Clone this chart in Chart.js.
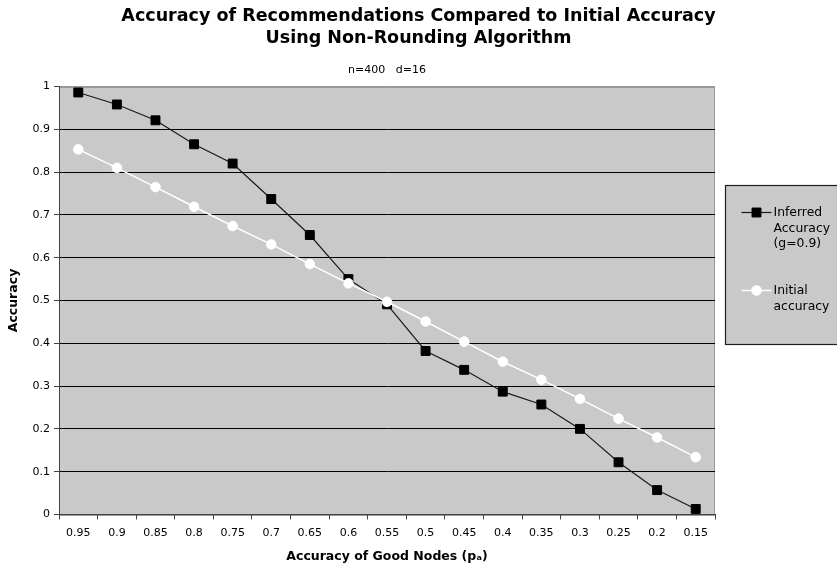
<!DOCTYPE html>
<html>
<head>
<meta charset="utf-8">
<title>Accuracy of Recommendations Compared to Initial Accuracy</title>
<script src="https://cdn.jsdelivr.net/npm/chart.js@4/dist/chart.umd.min.js"></script>
<style>
  html, body { margin: 0; padding: 0; background: #ffffff; }
  #wrap { width: 837px; height: 572px; }
</style>
</head>
<body>
<div id="wrap"><canvas id="chart" width="837" height="572"></canvas></div>
<script>
// Accuracy of good nodes (p_a), plotted from high to low
const goodNodeAccuracy = ['0.95', '0.9', '0.85', '0.8', '0.75', '0.7', '0.65', '0.6', '0.55',
                          '0.5', '0.45', '0.4', '0.35', '0.3', '0.25', '0.2', '0.15'];

// Inferred accuracy with g = 0.9
const inferredAccuracy = [0.986, 0.958, 0.921, 0.865, 0.820, 0.737, 0.653, 0.550, 0.491,
                          0.382, 0.338, 0.287, 0.257, 0.200, 0.122, 0.057, 0.013];

// Initial accuracy before recommendations
const initialAccuracy = [0.853, 0.810, 0.765, 0.719, 0.674, 0.631, 0.585, 0.540, 0.497,
                         0.451, 0.404, 0.357, 0.315, 0.270, 0.224, 0.180, 0.134];

const accuracyTicks = [0, 0.1, 0.2, 0.3, 0.4, 0.5, 0.6, 0.7, 0.8, 0.9, 1];

const titleLines = ['Accuracy of Recommendations Compared to Initial Accuracy',
                    'Using Non-Rounding Algorithm'];
const subtitleText = 'n=400   d=16';
const xAxisTitle = 'Accuracy of Good Nodes (p\u2090)';
const yAxisTitle = 'Accuracy';
const seriesNames = ['Inferred Accuracy (g=0.9)', 'Initial accuracy'];

const FONT = "'DejaVu Sans', Verdana, sans-serif";
const PLOT_BG = '#c9c9c9';

// Grey plot background with a light frame
const plotBackground = {
  id: 'plotBackground',
  beforeDraw(chart) {
    const { ctx, chartArea: a } = chart;
    ctx.save();
    ctx.fillStyle = PLOT_BG;
    ctx.fillRect(a.left, a.top, a.right - a.left, a.bottom - a.top);
    ctx.strokeStyle = '#9a9a9a';
    ctx.lineWidth = 1;
    ctx.strokeRect(Math.round(a.left) + 0.5, Math.round(a.top) + 0.5,
                   Math.round(a.right - a.left) - 1, Math.round(a.bottom - a.top));
    ctx.restore();
  }
};

// Word-wrap a label into lines no wider than maxWidth
function wrapText(ctx, text, maxWidth) {
  const words = text.split(' ');
  const lines = [];
  let line = '';
  for (const w of words) {
    const test = line ? line + ' ' + w : w;
    if (line && ctx.measureText(test).width > maxWidth) {
      lines.push(line);
      line = w;
    } else {
      line = test;
    }
  }
  if (line) lines.push(line);
  return lines;
}

// Boxed legend in its own column to the right of the plot
const sideLegend = {
  id: 'sideLegend',
  beforeInit(chart) {
    const box = {
      position: 'right',
      weight: 10,
      fullSize: false,
      options: { stackWeight: 1 },
      left: 0, top: 0, right: 0, bottom: 0, width: 0, height: 0,
      isHorizontal() { return false; },
      update(maxWidth, maxHeight) {
        this.width = 122;
        this.height = maxHeight;
      },
      draw() {
        const ctx = chart.ctx;
        const rx = Math.round(this.left) + 10.5;
        const ry = Math.round(this.top) + 98.5;
        const rw = 130;
        const rh = 159;
        ctx.save();
        ctx.fillStyle = PLOT_BG;
        ctx.fillRect(rx, ry, rw, rh);
        ctx.strokeStyle = '#1e1e1e';
        ctx.lineWidth = 1.2;
        ctx.strokeRect(rx, ry, rw, rh);

        ctx.font = '12.4px ' + FONT;
        ctx.textBaseline = 'middle';
        ctx.textAlign = 'left';
        chart.data.datasets.forEach((ds, i) => {
          const cy = ry + 27 + i * 78;
          const lx0 = rx + 16, lx1 = rx + 46, mx = rx + 31;
          ctx.strokeStyle = ds.borderColor;
          ctx.lineWidth = ds.borderWidth;
          ctx.beginPath();
          ctx.moveTo(lx0, cy);
          ctx.lineTo(lx1, cy);
          ctx.stroke();
          ctx.fillStyle = ds.pointBackgroundColor;
          ctx.strokeStyle = ds.pointBorderColor;
          ctx.lineWidth = ds.pointBorderWidth;
          Chart.helpers.drawPoint(ctx, {
            pointStyle: ds.pointStyle,
            radius: ds.pointRadius,
            borderWidth: ds.pointBorderWidth,
            rotation: 0
          }, mx, cy);
          ctx.fillStyle = '#000';
          const lines = wrapText(ctx, ds.label, 64);
          lines.forEach((t, k) => ctx.fillText(t, rx + 48, cy + k * 15.8));
        });
        ctx.restore();
      }
    };
    Chart.layouts.addBox(chart, box);
  }
};

new Chart(document.getElementById('chart'), {
  type: 'line',
  data: {
    labels: goodNodeAccuracy,
    datasets: [
      {
        label: seriesNames[0],
        data: inferredAccuracy,
        order: 1,
        borderColor: '#1a1a1a',
        borderWidth: 1.2,
        pointStyle: 'rect',
        pointRadius: 6.3,
        pointBackgroundColor: '#000000',
        pointBorderColor: '#000000',
        pointBorderWidth: 1,
        tension: 0
      },
      {
        label: seriesNames[1],
        data: initialAccuracy,
        order: 0,
        borderColor: '#ffffff',
        borderWidth: 1.5,
        pointStyle: 'circle',
        pointRadius: 4.8,
        pointBackgroundColor: '#ffffff',
        pointBorderColor: '#ffffff',
        pointBorderWidth: 1,
        tension: 0
      }
    ]
  },
  options: {
    responsive: false,
    animation: false,
    devicePixelRatio: 1,
    events: [],
    layout: { padding: 0 },
    plugins: {
      legend: { display: false },
      tooltip: { enabled: false },
      title: {
        display: true,
        text: titleLines,
        color: '#000',
        font: { family: FONT, size: 17.5, weight: 'bold', lineHeight: 1.3 },
        padding: { top: 4.6, bottom: 10 }
      },
      subtitle: {
        display: true,
        fullSize: false,
        text: subtitleText,
        color: '#000',
        font: { family: FONT, size: 11, weight: 'normal', lineHeight: 1.2 },
        padding: { top: 3.3, bottom: 9.9 }
      }
    },
    scales: {
      x: {
        type: 'category',
        offset: true,
        afterFit(scale) { scale.height = 57.5; },
        grid: {
          offset: true,
          drawOnChartArea: false,
          drawTicks: true,
          tickLength: 5,
          color: '#444'
        },
        border: { display: true, color: '#444', width: 1 },
        ticks: {
          color: '#000',
          font: { family: FONT, size: 11 },
          padding: 7,
          maxRotation: 0,
          autoSkip: false
        },
        title: {
          display: true,
          text: xAxisTitle,
          color: '#000',
          font: { family: FONT, size: 12.5, weight: 'bold', lineHeight: 1.2 },
          padding: { top: 0, bottom: 7.5 }
        }
      },
      y: {
        min: 0,
        max: 1,
        afterFit(scale) { scale.width = 59; },
        afterBuildTicks(scale) { scale.ticks = accuracyTicks.map(v => ({ value: v })); },
        grid: {
          drawTicks: true,
          tickLength: 5,
          color: (c) => (c.tick && c.tick.value === 1 ? '#9a9a9a' : '#000000'),
          tickColor: '#444',
          lineWidth: 1
        },
        border: { display: true, color: '#444', width: 1 },
        ticks: {
          color: '#000',
          font: { family: FONT, size: 11 },
          padding: 4,
          callback: (v) => String(Math.round(v * 10) / 10)
        },
        title: {
          display: true,
          text: yAxisTitle,
          color: '#000',
          font: { family: FONT, size: 12.5, weight: 'bold', lineHeight: 1.2 },
          padding: { top: 6, bottom: 0 }
        }
      }
    }
  },
  plugins: [plotBackground, sideLegend]
});
</script>
</body>
</html>
